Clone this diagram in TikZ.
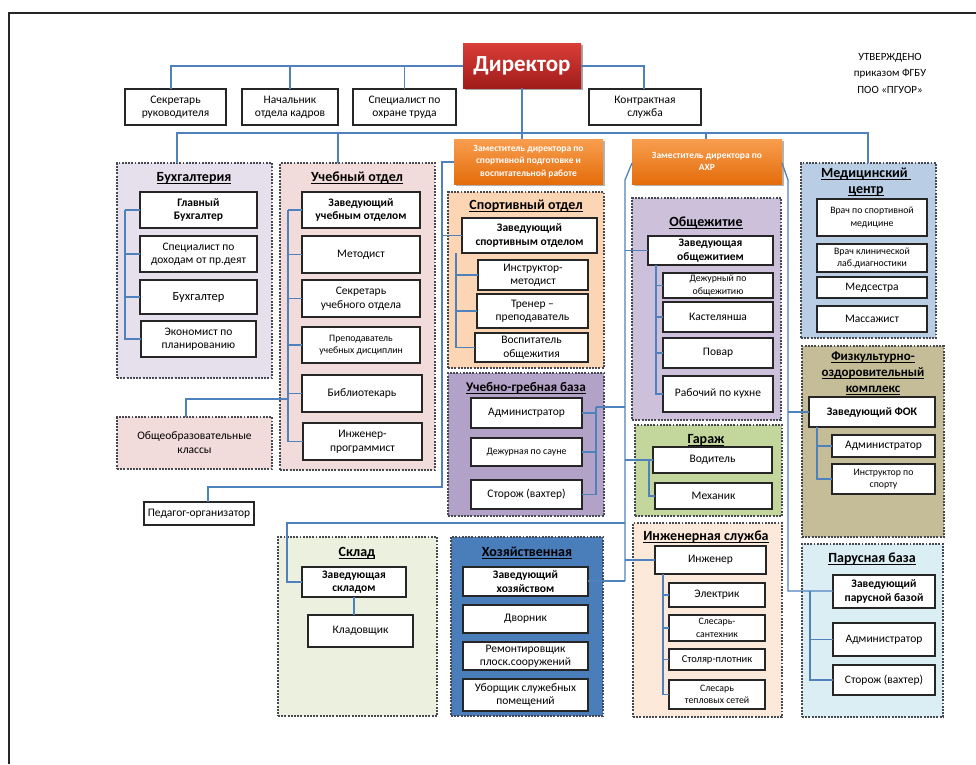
\documentclass[tikz,border=0pt]{standalone}
\usepackage{fontspec}
\setmainfont{Carlito}
\usetikzlibrary{shadows}
\definecolor{cblue}{RGB}{79,129,189}
\definecolor{gline}{RGB}{70,72,82}
\definecolor{cbux}{RGB}{229,224,236}
\definecolor{cuch}{RGB}{242,220,219}
\definecolor{cspo}{RGB}{252,213,180}
\definecolor{cgre}{RGB}{179,162,199}
\definecolor{cobs}{RGB}{204,192,218}
\definecolor{cgar}{RGB}{195,214,155}
\definecolor{cing}{RGB}{253,233,217}
\definecolor{cskl}{RGB}{235,241,222}
\definecolor{choz}{RGB}{74,126,187}
\definecolor{cmed}{RGB}{185,205,229}
\definecolor{cfok}{RGB}{196,189,151}
\definecolor{cpar}{RGB}{219,238,244}
\definecolor{orT}{RGB}{248,158,80}
\definecolor{orB}{RGB}{228,108,10}
\definecolor{rdT}{RGB}{218,62,56}
\definecolor{rdB}{RGB}{160,28,26}
\newcommand\fs[2]{\fontsize{#1}{#2}\selectfont}
\newsavebox\ulbx
\newcommand\ul[1]{\sbox\ulbx{#1}\rlap{\raisebox{-2.4pt}{\rule{\wd\ulbx}{1.1pt}}}\usebox\ulbx}
\newcommand\B[7][]{\node[#1,minimum width={(#5)-(#3)},minimum height={(#6)-(#4)}] (#2) at ({((#3)+(#5))/2},{((#4)+(#6))/2}) {#7};}
\tikzset{
  box/.style={draw=black!85, line width=1.3pt, fill=white, align=center, inner sep=1pt, outer sep=0pt,
    font=\fs{11.5}{13.5}, drop shadow={shadow xshift=1.2pt, shadow yshift=-1.2pt, opacity=0.35, fill=black}},
  sbox/.style={box, font=\fs{9.8}{12.5}},
  bbox/.style={box, font=\bfseries\fs{11.5}{13.5}},
  grp/.style={draw=gline, line width=2.3pt, dash pattern=on 1.9pt off 1.3pt, outer sep=0pt, inner sep=0pt},
  ttl/.style={font=\bfseries\fs{14}{16}, align=center, inner sep=0pt},
  conn/.style={draw=cblue, line width=1.3pt},
  orng/.style={top color=orT, bottom color=orB, draw=none, align=center, inner sep=1pt, outer sep=0pt,
    text=white, font=\bfseries\fs{9.5}{12.5}, drop shadow={shadow xshift=1.5pt, shadow yshift=-1.5pt, opacity=0.3, fill=black}},
}
\begin{document}
\begin{tikzpicture}[x=1pt,y=-1pt]
\useasboundingbox (0,0) rectangle (976,764);
% outer frame
\draw[line width=2pt, black!85] (9,764) -- (9,13) -- (976,13);

% approval text
\node[align=center, font=\fs{11}{16.5}, inner sep=0pt] (utv) at (890,73) {УТВЕРЖДЕНО\\приказом ФГБУ\\ПОО «ПГУОР»};

% director
\B[top color=rdT, bottom color=rdB, draw=none, text=white, font=\bfseries\fs{23}{26}, outer sep=0pt, inner sep=0pt,
   drop shadow={shadow xshift=2pt, shadow yshift=-2pt, opacity=0.35, fill=black}]{dir}{463}{43}{581}{88}{Директор}

% top staff
\B[box]{sec}{125}{89}{226}{125}{Секретарь\\руководителя}
\B[box]{hr}{242}{89}{338}{125}{Начальник\\отдела кадров}
\B[box]{ot}{353}{89}{456}{125}{Специалист по\\охране труда}
\B[box]{ks}{589}{89}{701}{125}{Контрактная\\служба}

% deputies
\B[orng]{o1}{454}{139}{603}{184}{Заместитель директора по\\спортивной  подготовке и\\воспитательной работе}
\B[orng]{o2}{632}{139}{782}{184}{Заместитель  директора по\\АХР}

% groups
\B[grp,fill=cbux]{gbux}{117}{163}{272}{378}{}
\B[grp,fill=cuch]{guch}{280}{163}{435}{470}{}
\B[grp,fill=cuch,align=center,font=\fs{11.5}{14}]{gob}{117}{417}{272}{469}{Общеобразовательные\\классы}
\B[grp,fill=cspo]{gspo}{448}{192}{604}{368}{}
\B[grp,fill=cgre]{ggre}{448}{373}{604}{516}{}
\B[grp,fill=cobs]{gobs}{632}{198}{781}{420}{}
\B[grp,fill=cgar]{ggar}{635}{425}{782}{516}{}
\B[grp,fill=cing]{ging}{633}{523}{782}{717}{}
\B[grp,fill=choz]{ghoz}{451}{537}{603}{716}{}
\B[grp,fill=cskl]{gskl}{278}{537}{437}{716}{}
\B[grp,fill=cmed]{gmed}{801}{163}{936}{338}{}
\B[grp,fill=cfok]{gfok}{802}{346}{944}{537}{}
\B[grp,fill=cpar]{gpar}{802}{544}{943}{717}{}

% titles
\node[ttl] (tbux) at (194,178) {\ul{Бухгалтерия}};
\node[ttl] (tuch) at (357,178) {\ul{Учебный отдел}};
\node[ttl] (tspo) at (526,206) {\ul{Спортивный отдел}};
\node[ttl,font=\bfseries\fs{13.2}{16}] (tgre) at (526,388) {\ul{Учебно-гребная база}};
\node[ttl] (tobs) at (706,223) {\ul{Общежитие}};
\node[ttl] (tgar) at (706,440) {\ul{Гараж}};
\node[ttl] (ting) at (706,537) {\ul{Инженерная служба}};
\node[ttl] (tskl) at (357,553) {\ul{Склад}};
\node[ttl] (thoz) at (527,553) {\ul{Хозяйственная}};
\node[ttl] (thoz2) at (527,576) {служба};
\node[ttl,anchor=north] (tmed) at (866,168) {\ul{Медицинский\ }\\\ul{центр}};
\node[ttl,anchor=north,font=\bfseries\fs{13}{16}] (tfok) at (873,352) {\ul{Физкультурно-}\\\ul{оздоровительный}\\\ul{комплекс}};
\node[ttl] (tpar) at (872,559) {\ul{Парусная база}};

% Бухгалтерия
\B[bbox]{gb}{140}{192}{257}{228}{Главный\\Бухгалтер}
\B[box]{sd}{140}{236}{257}{272}{Специалист по\\доходам от пр.деят}
\B[box,font=\fs{12.5}{14}]{bu}{140}{280}{257}{314}{Бухгалтер}
\B[box]{ec}{141}{321}{256}{357}{Экономист по\\планированию}

% Учебный отдел
\B[bbox]{zu}{302}{192}{420}{228}{Заведующий\\учебным отделом}
\B[box]{me}{302}{236}{420}{273}{Методист}
\B[box]{su}{302}{280}{420}{317}{Секретарь\\учебного отдела}
\B[sbox]{pr}{302}{327}{420}{363}{Преподаватель\\учебных дисциплин}
\B[box,line width=2.4pt]{bi}{302}{375}{422}{412}{Библиотекарь}
\B[box]{ip}{303}{423}{422}{460}{Инженер-\\программист}

\B[box]{ped}{144}{502}{254}{525}{Педагог-организатор}

% Спортивный отдел
\B[bbox]{zs}{462}{218}{597}{253}{Заведующий\\спортивным отделом}
\B[box]{im}{478}{260}{588}{290}{Инструктор-\\методист}
\B[box]{tp}{477}{294}{588}{328}{Тренер –\\преподаватель}
\B[box]{vo}{475}{333}{588}{362}{Воспитатель\\общежития}

% Учебно-гребная база
\B[box]{ua}{471}{398}{582}{428}{Администратор}
\B[sbox]{ud}{471}{438}{582}{466}{Дежурная по сауне}
\B[box]{us}{471}{480}{582}{509}{Сторож (вахтер)}

% Общежитие
\B[bbox]{zo}{648}{236}{773}{265}{Заведующая\\общежитием}
\B[sbox]{dj}{663}{273}{773}{298}{Дежурный по\\общежитию}
\B[box]{ka}{663}{302}{773}{332}{Кастелянша}
\B[box]{po}{663}{338}{773}{368}{Повар}
\B[box]{rk}{663}{376}{773}{412}{Рабочий по кухне}

% Гараж
\B[box]{vd}{653}{447}{772}{473}{Водитель}
\B[box]{mx}{655}{483}{772}{509}{Механик}

% Инженерная служба
\B[box]{inz}{655}{546}{766}{574}{Инженер}
\B[box]{el}{669}{583}{765}{607}{Электрик}
\B[sbox]{ss}{669}{615}{765}{641}{Слесарь-\\сантехник}
\B[box,font=\fs{10.5}{12.5}]{sp}{669}{649}{765}{670}{Столяр-плотник}
\B[sbox]{st}{669}{680}{765}{709}{Слесарь\\тепловых сетей}

% Хозяйственная служба
\B[bbox]{zh}{463}{567}{588}{596}{Заведующий\\хозяйством}
\B[box]{dv}{463}{605}{588}{633}{Дворник}
\B[box]{rm}{463}{642}{588}{670}{Ремонтировщик\\плоск.сооружений}
\B[box,line width=2.8pt]{ub}{463}{679}{588}{711}{Уборщик служебных\\помещений}

% Склад
\B[bbox]{zk}{302}{567}{406}{597}{Заведующая\\складом}
\B[box]{kl}{308}{615}{413}{647}{Кладовщик}

% Медицинский центр
\B[sbox]{v1}{817}{199}{927}{236}{Врач  по спортивной\\медицине}
\B[sbox]{v2}{817}{244}{927}{272}{Врач  клинической\\лаб.диагностики}
\B[box]{ms}{817}{277}{927}{298}{Медсестра}
\B[box]{ma}{817}{306}{927}{332}{Массажист}

% ФОК
\B[bbox]{zf}{809}{397}{935}{427}{Заведующий ФОК}
\B[box]{fa}{832}{435}{935}{457}{Администратор}
\B[sbox]{fi}{832}{464}{935}{494}{Инструктор по\\спорту}

% Парусная база
\B[bbox]{zp}{833}{575}{935}{608}{Заведующий\\парусной базой}
\B[box]{pa}{833}{623}{935}{656}{Администратор}
\B[box]{ps}{833}{665}{935}{695}{Сторож (вахтер)}

% ---------- connectors ----------
\coordinate (h1) at (171,66);
\coordinate (h2) at (644,66);
\draw[conn] (dir.west |- h1) -- (h1) -- (h1 |- sec.north);
\draw[conn] (hr.north) -- (hr.north |- h1);
\draw[conn] (ot.north) -- (ot.north |- h1);
\draw[conn] (dir.east |- h2) -- (h2) -- (h2 |- ks.north);

\coordinate (l2a) at (177,133);
\coordinate (l2b) at (868,133);
\draw[conn] (dir.south) -- (o1.north -| dir.south);
\draw[conn] (l2a |- gbux.north) -- (l2a) -- (l2b) -- (l2b |- gmed.north);
\draw[conn] (338,133) -- (guch.north -| 338,0);
\draw[conn] (706,133) -- (o2.north -| 706,0);

% from deputy 1
\coordinate (v1a) at (442,162);
\coordinate (v1b) at (442,487);
\coordinate (v1c) at (208,487);
\draw[conn] (o1.west |- v1a) -- (v1a) -- (v1b) -- (v1c) -- (v1c |- ped.north);
\draw[conn] (v1a |- zs.west) -- (zs.west);

% from deputy 2 (left trunk)
\coordinate (al0) at (632,163);
\coordinate (al) at (625,180);
\coordinate (alb) at (625,581);
\draw[conn] (al0) -- (al) -- (alb);
\draw[conn] (al |- zo.west) -- (zo.west);
\draw[conn] (al |- vd.west) -- (vd.west);
\draw[conn] (al |- inz.west) -- (inz.west);
\draw[conn] (zh.east |- alb) -- (alb);
\draw[conn] (625,407) -- (596,407);
\coordinate (sk1) at (287,523);
\draw[conn] (al |- sk1) -- (sk1) -- (sk1 |- zk.west) -- (zk.west);
\draw[conn] (zk.south) -- (zk.south |- kl.north);

% from deputy 2 (right trunk)
\coordinate (ar0) at (782,163);
\coordinate (ar) at (788,180);
\coordinate (arb) at (788,591);
\draw[conn] (ar0) -- (ar) -- (arb) -- (zp.west |- arb);
\draw[conn] (ar |- zf.west) -- (zf.west);

% brackets
\foreach \c in {gb,sd,bu,ec} \draw[conn] (125,210) |- (\c.west);
\foreach \c in {zu,me,su,pr,bi,ip} \draw[conn] (288,210) |- (\c.west);
\draw[conn] (288,399) -- (186,399) -- (gob.north -| 186,0);
\foreach \c in {im,tp,vo} \draw[conn] (456,253) |- (\c.west);
\foreach \c in {ua,ud,us} \draw[conn] (596,407) |- (\c.east);
\foreach \c in {dj,ka,po,rk} \draw[conn] (656,265) |- (\c.west);
\draw[conn] (649,460) |- (mx.west);
\foreach \c in {el,ss,sp,st} \draw[conn] (663,574) |- (\c.west);
\foreach \c in {fa,fi} \draw[conn] (817,427) |- (\c.west);
\foreach \c in {pa,ps} \draw[conn] (810,591) |- (\c.west);
\end{tikzpicture}
\end{document}
